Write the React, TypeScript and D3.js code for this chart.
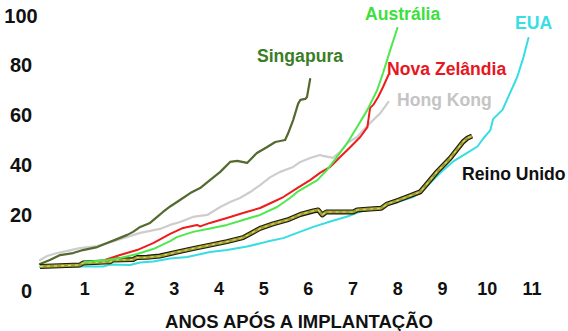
import React from 'react';
import * as d3 from 'd3';

// ---- data (years after implementation, adoption %) ----
const xTicks = [1, 2, 3, 4, 5, 6, 7, 8, 9, 10, 11];
const yTicks = [20, 40, 60, 80, 100];
const xTitle = 'ANOS APÓS A IMPLANTAÇÃO';

const singaporeYears = [0, 0.22, 0.45, 0.74, 0.96, 1.28, 1.5, 1.72, 1.95, 2.08, 2.24, 2.46, 2.62, 2.75, 2.91, 3.13, 3.36, 3.58, 3.8, 4.03, 4.25, 4.41, 4.63, 4.85, 5.08, 5.26, 5.48, 5.55, 5.66, 5.77, 5.82, 5.93, 5.97, 6.04];
const singaporeValues = [1.2, 2.8, 4.8, 5.6, 6.8, 8.0, 9.6, 11.2, 12.9, 14.1, 16.1, 17.7, 20.1, 22.1, 24.3, 26.9, 29.7, 31.7, 34.9, 38.2, 42.2, 42.6, 41.8, 45.8, 48.2, 50.2, 51.0, 53.8, 59.0, 65.5, 67.1, 67.5, 68.3, 75.5];

const hongKongYears = [0, 0.16, 0.38, 0.89, 1.28, 1.72, 2.24, 2.68, 2.91, 3.13, 3.42, 3.74, 4.03, 4.25, 4.47, 4.7, 4.92, 5.15, 5.37, 5.66, 5.82, 6.04, 6.26, 6.33, 6.55, 6.71, 6.87, 7.09, 7.23, 7.45, 7.61, 7.79];
const hongKongValues = [2.8, 4.4, 5.6, 7.6, 8.4, 10.8, 13.7, 15.3, 16.9, 18.1, 20.1, 20.9, 24.1, 26.1, 27.7, 30.1, 32.9, 36.1, 38.2, 40.2, 42.2, 43.8, 45.0, 44.6, 43.8, 46.2, 49.8, 52.2, 55.0, 59.0, 61.8, 66.3];

const newZealandYears = [1.45, 1.79, 2.17, 2.53, 2.91, 3.2, 3.51, 3.58, 3.8, 4.18, 4.54, 4.92, 5.21, 5.44, 5.75, 6.04, 6.26, 6.49, 6.71, 6.94, 7.16, 7.32, 7.38, 7.45, 7.56, 7.67, 7.79];
const newZealandValues = [2.8, 4.8, 6.8, 9.6, 13.3, 15.7, 16.9, 16.3, 17.7, 19.7, 21.7, 23.7, 26.1, 28.1, 31.7, 34.9, 37.8, 40.2, 44.2, 48.2, 52.2, 56.2, 63.9, 65.1, 68.3, 72.3, 77.1];

const australiaYears = [1.0, 1.5, 1.79, 2.17, 2.53, 2.91, 3.06, 3.42, 3.8, 4.18, 4.54, 4.92, 5.3, 5.59, 5.78, 6.2, 6.42, 6.64, 6.87, 7.09, 7.32, 7.54, 7.67, 7.83, 7.99];
const australiaValues = [2.0, 2.8, 3.6, 5.2, 7.2, 10.4, 12.0, 14.1, 15.5, 16.9, 18.9, 20.9, 24.1, 27.7, 30.5, 34.9, 39.0, 44.2, 49.8, 56.2, 63.1, 71.1, 77.9, 87.1, 96.0];

const usaYears = [0, 0.89, 1.41, 1.57, 2.01, 2.24, 2.53, 2.91, 3.29, 3.8, 4.18, 4.63, 5.08, 5.44, 5.75, 6.11, 6.49, 6.87, 7.16, 7.61, 7.99, 8.34, 8.57, 8.79, 9.02, 9.24, 9.55, 9.78, 9.91, 10.07, 10.13, 10.22, 10.34, 10.51, 10.67, 10.81, 10.92];
const usaValues = [0, 0.2, 0.2, 1.0, 0.8, 1.8, 2.2, 3.4, 4.0, 6.0, 6.8, 8.2, 10.2, 11.6, 13.7, 16.1, 18.3, 20.3, 22.3, 24.1, 26.1, 28.1, 30.9, 34.9, 39.0, 42.4, 45.8, 48.4, 51.6, 55.0, 59.4, 61.0, 63.1, 69.9, 76.3, 84.3, 92.0];

const ukYears = [0, 0.89, 0.96, 1.57, 1.63, 2.08, 2.17, 2.39, 2.68, 3.06, 3.42, 3.8, 4.18, 4.54, 4.92, 5.21, 5.53, 5.82, 6.11, 6.22, 6.31, 6.4, 7.0, 7.09, 7.38, 7.63, 7.76, 7.99, 8.21, 8.5, 8.66, 8.88, 9.17, 9.46, 9.55, 9.66];
const ukValues = [0.2, 0.8, 1.6, 2.1, 2.8, 3.0, 3.8, 3.9, 4.4, 6.0, 7.4, 8.8, 10.2, 11.8, 15.5, 17.3, 18.9, 21.1, 22.5, 22.9, 20.9, 22.1, 22.1, 22.9, 23.3, 23.6, 25.3, 26.7, 28.2, 30.2, 33.6, 38.3, 43.7, 50.3, 51.7, 52.6];

// ---- layout ----
const W = 568;
const H = 331;
const FONT = "'Liberation Sans', Arial, Helvetica, sans-serif";

const x = d3.scaleLinear().domain([0, 11]).range([40, 532]);
const y = d3.scaleLinear().domain([0, 100]).range([267, 18]);

const zip = (xs: number[], vs: number[]) => xs.map((t, i) => [t, vs[i]] as [number, number]);
const line = d3
  .line<[number, number]>()
  .x((d) => x(d[0]))
  .y((d) => y(d[1]));

const labels = [
  { text: 'Singapura', x: 257, y: 62, color: '#3a7d26' },
  { text: 'Austrália', x: 365, y: 20, color: '#3ddf3d' },
  { text: 'Nova Zelândia', x: 387, y: 75, color: '#e8161e' },
  { text: 'Hong Kong', x: 397, y: 106, color: '#c4c4c4' },
  { text: 'EUA', x: 515, y: 29, color: '#38dee6' },
  { text: 'Reino Unido', x: 462, y: 180, color: '#111111' },
];

export default function App() {
  const hk = line(zip(hongKongYears, hongKongValues)) || '';
  const sg = line(zip(singaporeYears, singaporeValues)) || '';
  const us = line(zip(usaYears, usaValues)) || '';
  const uk = line(zip(ukYears, ukValues)) || '';
  const nz = line(zip(newZealandYears, newZealandValues)) || '';
  const au = line(zip(australiaYears, australiaValues)) || '';

  return (
    <svg
      width={W}
      height={H}
      viewBox={`0 0 ${W} ${H}`}
      style={{ position: 'absolute', left: 0, top: 0, background: '#fff' }}
      fontFamily={FONT}
      fontWeight="bold"
    >
      <rect width={W} height={H} fill="#fff" />
      <g fill="none" strokeLinejoin="round" strokeLinecap="round">
        <path d={hk} stroke="#cdcdcd" strokeWidth={2.2} />
        <path d={sg} stroke="#53692f" strokeWidth={2.2} />
        <path d={us} stroke="#36dde2" strokeWidth={2} />
        <path d={uk} stroke="#1a1a0a" strokeWidth={5} strokeLinecap="butt" />
        <path d={uk} stroke="#9f9c34" strokeWidth={2.8} strokeLinecap="butt" />
        <path d={uk} stroke="#e2dd5a" strokeWidth={1.1} strokeDasharray="3 4" strokeLinecap="butt" />
        <path d={nz} stroke="#ee1c1c" strokeWidth={2} />
        <path d={au} stroke="#4de84d" strokeWidth={2} />
      </g>

      {yTicks.map((v) => (
        <text key={v} x={21} y={y(v) - 2.5} dy="0.35em" textAnchor="middle" fontSize={20} fill="#111">
          {v}
        </text>
      ))}
      <text x={26.5} y={298} textAnchor="middle" fontSize={20} fill="#111">
        0
      </text>
      {xTicks.map((t) => (
        <text key={t} x={x(t)} y={294.5} textAnchor="middle" fontSize={18} fill="#111">
          {t}
        </text>
      ))}
      <text x={299} y={328} textAnchor="middle" fontSize={18.5} fill="#111">
        {xTitle}
      </text>

      {labels.map((l) => (
        <text key={l.text} x={l.x} y={l.y} fontSize={17.6} fill={l.color}>
          {l.text}
        </text>
      ))}
    </svg>
  );
}
